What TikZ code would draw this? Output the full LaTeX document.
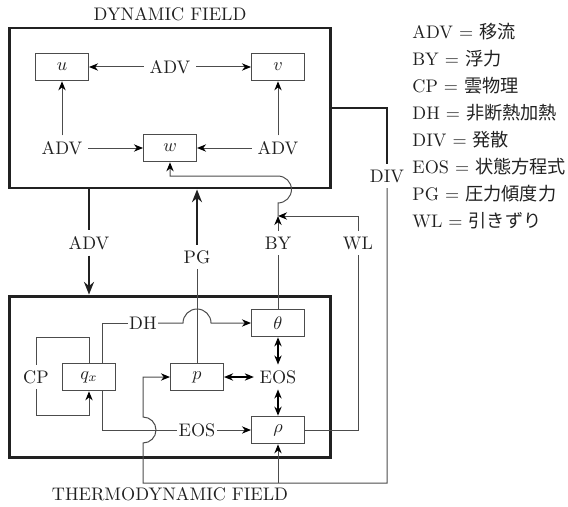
\documentclass[tikz,border=0pt]{standalone}
\usepackage{fontspec}
\newfontfamily\jpfont{Noto Sans CJK JP}
\usepackage{xcolor}
\usepackage{tikz}
\usetikzlibrary{arrows.meta, calc}

\definecolor{linegray}{gray}{0.3}
\definecolor{inkgray}{gray}{0.13}

\begin{document}
\begin{tikzpicture}[
    x=0.55pt, y=-0.55pt,
    font=\color{inkgray},
    fieldbox/.style = {rectangle, draw=inkgray, line width=1.6pt, minimum width=177pt, minimum height=88pt, inner sep=0pt},
    varbox/.style = {rectangle, draw=linegray, line width=0.7pt, minimum width=29pt, minimum height=15pt, inner sep=0pt},
    lbl/.style = {inner sep=3pt},
    tight/.style = {inner sep=0.6pt},
    flow/.style = {draw=linegray, line width=0.55pt},
    heavy/.style = {draw=inkgray, line width=1.6pt},
    tip/.style = {-{Stealth[black, length=5pt, width=4pt]}},
    bigtip/.style = {-{Stealth[inkgray, length=7pt, width=5.5pt]}},
    both/.style = {draw=black, line width=0.9pt, {Stealth[length=5pt, width=4pt]}-{Stealth[length=5pt, width=4pt]}},
    legend/.style = {anchor=west, inner sep=0pt}
]
    \useasboundingbox (0,0) rectangle (568,506);

    % the two fields
    \node [fieldbox] (dyn) at (170,108) {};
    \node (dyntitle) at (170,14) {DYNAMIC FIELD};
    \node [fieldbox, minimum height=89pt] (thermo) at (170,377) {};
    \node (thermotitle) at (170,494) {THERMODYNAMIC FIELD};

    % dynamic field
    \node [varbox] (u) at (62,67) {$u$};
    \node [varbox] (v) at (278,67) {$v$};
    \node [varbox] (w) at (170,148) {$w$};
    \node [lbl] (advt) at (170,67) {ADV};
    \node [lbl] (advl) at (62,148) {ADV};
    \node [lbl] (advr) at (278,148) {ADV};

    \draw [flow, tip] (advt) -- (u);
    \draw [flow, tip] (advt) -- (v);
    \draw [flow, tip] (advl) -- (u);
    \draw [flow, tip] (advr) -- (v);
    \draw [flow, tip] (advl) -- (w);
    \draw [flow, tip] (advr) -- (w);

    % thermodynamic field
    \node [varbox] (theta) at (278,323) {$\theta$};
    \node [varbox] (qx) at (89,377) {$q_x$};
    \node [varbox] (p) at (197,377) {$p$};
    \node [varbox] (rho) at (278,430) {$\rho$};
    \node [lbl] (eos) at (278,377) {EOS};
    \node [lbl] (cp) at (36,377) {CP};
    \node [tight] (dh) at (143,323) {DH};
    \node [tight] (eosb) at (197,430) {EOS};

    \draw [flow] (qx.north) -- (qx |- theta.south) -| (cp.north);
    \draw [flow, tip] (cp.south) |- (cp |- rho.north) -| (qx.south);
    \draw [flow] ([xshift=7.4pt]qx.north) |- (dh.west);
    \draw [flow, tip] (dh.east) -- ($(p |- dh)+(-14,0)$) arc[start angle=180, end angle=0, radius=7.7pt] -- (theta.west);
    \draw [flow] ([xshift=7.4pt]qx.south) |- (eosb.west);
    \draw [flow, tip] (eosb.east) -- (rho.west);
    \draw [both] (p.east) -- (eos.west);
    \draw [both] (theta.south) -- (eos.north);
    \draw [both] (eos.south) -- (rho.north);

    % exchanges between the fields
    \node [lbl] (adv) at (89,243) {ADV};
    \node [lbl] (pg) at (197,257) {PG};
    \node [lbl] (by) at (278,243) {BY};
    \node [lbl] (wl) at (358,243) {WL};
    \node [lbl] (div) at (387,176) {DIV};
    \coordinate (merge) at (278,216);
    \coordinate (dsw) at (143,483);

    \draw [heavy] (adv |- dyn.south) -- (adv.north);
    \draw [heavy, bigtip] (adv.south) -- (adv |- thermo.north);
    \draw [flow] (p.north) -- (pg.south);
    \draw [heavy, bigtip] (pg.north) -- (pg |- dyn.south);
    \draw [flow] (theta.north) -- (by.south);
    \draw [flow, tip] (by.north) -- (merge);
    \draw [flow] (rho.east) -| (wl.south);
    \draw [flow, tip] (wl.north) |- (merge);
    \draw [flow, tip] (merge) -- ($(dyn.south -| merge)+(0,13.5)$) arc[start angle=-90, end angle=90, radius=7.4pt] -| (w.south);
    \draw [heavy] (dyn.east) -| (div.north);
    \draw [flow, tip] (div.south) |- (dsw) -- ($(eosb.west -| dsw)+(0,13)$) arc[start angle=-90, end angle=90, radius=7.15pt] |- (p.west);
    \draw [flow, tip] (rho |- dsw) -- (rho.south);

    % key
    \foreach \abbr/\word [count=\i from 0] in {ADV/移流, BY/浮力, CP/雲物理, DH/非断熱加熱, DIV/発散, EOS/状態方程式, PG/圧力傾度力, WL/引きずり}
        \node [legend] (key\i) at (412,32+27*\i) {\abbr{} $=$ {\jpfont\word}};
\end{tikzpicture}
\end{document}
